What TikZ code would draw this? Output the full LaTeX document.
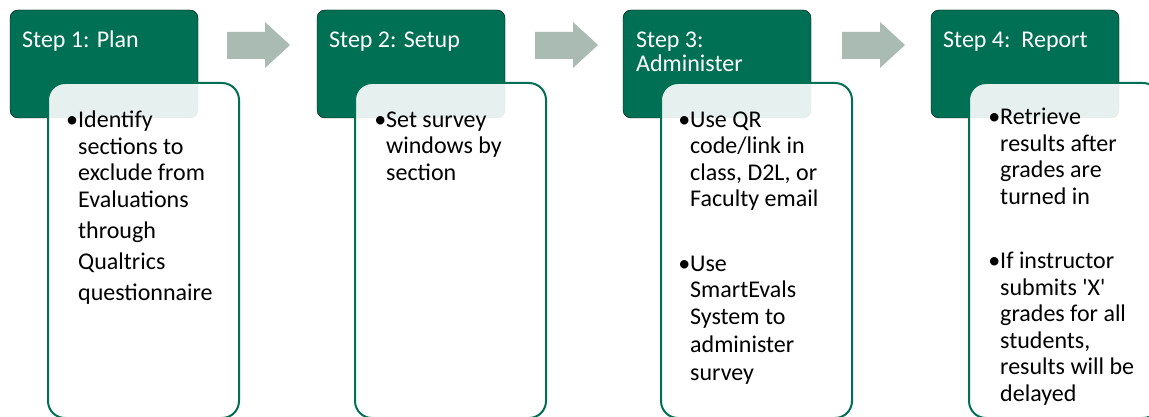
\documentclass[tikz,border=0pt]{standalone}
\usepackage{fontspec}
\setmainfont{Carlito}
\definecolor{stepgreen}{RGB}{0,112,84}
\definecolor{arrowgray}{RGB}{170,187,179}
\tikzset{
  stephead/.style={fill=stepgreen,rounded corners=8pt},
  stepbody/.style={draw=stepgreen,line width=2pt,fill=white,fill opacity=0.9,rounded corners=17pt},
  steparrow/.style={fill=arrowgray},
  headtext/.style={anchor=base west,inner sep=0pt,text=white,align=left,
    font=\fontsize{24}{24}\selectfont},
  bodytext/.style={anchor=base west,inner sep=0pt,align=left,
    font=\fontsize{24}{26.5}\selectfont}
}

\begin{document}
\begin{tikzpicture}[x=1pt,y=-1pt]
  \useasboundingbox (0,0) rectangle (1149,417);
  \clip (0,0) rectangle (1149,417);

  % step boxes, the body box laid over the head box
  \foreach \x in {10,317,623,931}{
    \draw[stephead] (\x,10) rectangle ++(188,108);
    \draw[stepbody] (\x+38,83) rectangle ++(191,335);
  }

  % block arrows between the steps
  \foreach \x in {227,535,842}
    \fill[steparrow] (\x,32) -- ++(38,0) -- ++(0,-10) -- ++(25,23)
      -- ++(-25,23) -- ++(0,-9) -- ++(-38,0) -- cycle;

  % texts sit on the baseline of their last line
  \node[headtext] (h1) at (22,48)  {Step 1: Plan};
  \node[headtext] (h2) at (329,48) {Step 2: Setup};
  \node[headtext] (h3) at (636,72) {Step 3:\\Administer};
  \node[headtext] (h4) at (943,48) {Step 4:\ \ Report};

  \node[bodytext] (b1) at (78,300) {\llap{•}Identify\\sections to\\exclude from\\Evaluations\\[4.5pt]through\\[4.5pt]Qualtrics\\[4.5pt]questionnaire};
  \node[bodytext] (b2) at (386,180) {\llap{•}Set survey\\windows by\\section};
  \node[bodytext] (b3) at (690,380) {\llap{•}Use QR\\code/link in\\class, D2L, or\\Faculty email\\[38pt]\llap{•}Use\\SmartEvals\\System to\\[1.5pt]administer\\[1.5pt]survey};
  \node[bodytext] (b4) at (1000,401) {\llap{•}Retrieve\\results after\\grades are\\turned in\\[38pt]\llap{•}If instructor\\submits \textquotesingle X\textquotesingle\\grades for all\\students,\\results will be\\delayed};
\end{tikzpicture}
\end{document}
